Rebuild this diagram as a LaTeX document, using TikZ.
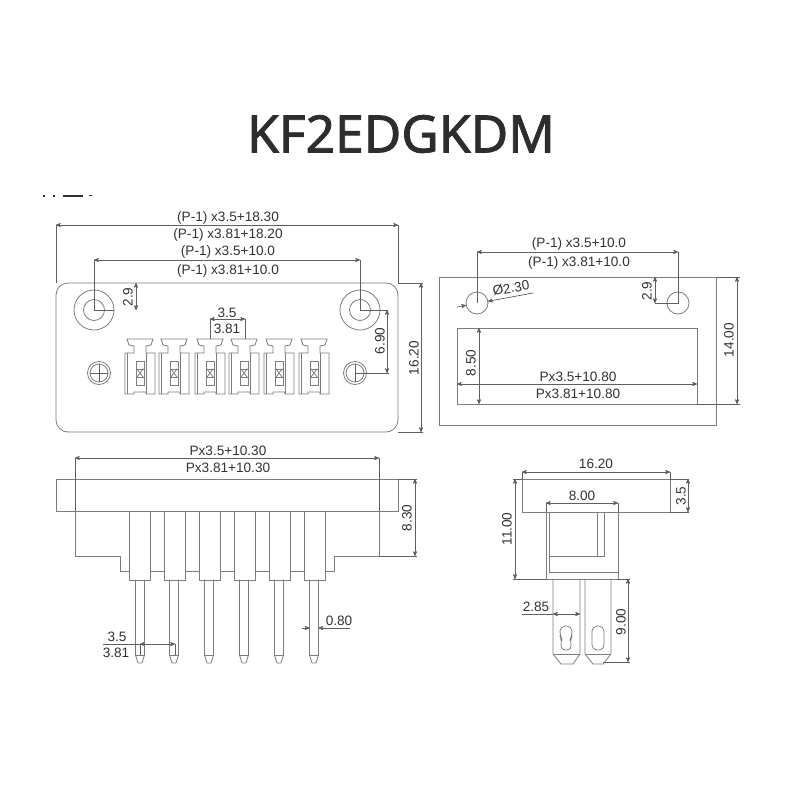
\documentclass[tikz,border=0pt]{standalone}
\usepackage{fontspec}
\setmainfont{Liberation Sans}
\newfontfamily\titlefont[FakeBold=1.6]{Noto Sans}
\usetikzlibrary{arrows}
\begin{document}
\begin{tikzpicture}[x=1pt,y=-1pt,line cap=rect,
	part/.style={line width=0.8pt, col_part},
	dim/.style={line width=0.7pt, col_dim},
	dimarrow/.style={line width=0.7pt, col_dim, <->, >=stealth'},
	dimtip/.style={line width=0.7pt, col_dim, ->, >=stealth'},
	dimtext/.style={inner sep=0, outer sep=0, col_text, font=\fontsize{13.6pt}{13.6pt}\selectfont}]
	\definecolor{col_part}{RGB}{125, 125, 125}
	\definecolor{col_dim}{RGB}{95, 95, 95}
	\definecolor{col_text}{RGB}{50, 50, 50}
	\definecolor{col_title}{RGB}{45, 45, 45}
	\useasboundingbox (0,0) rectangle (800,800);
	\node[inner sep=0, outer sep=0, col_title, font=\titlefont\fontsize{51.5pt}{51.5pt}\selectfont] (title) at (401,134) {KF2EDGKDM};
	% cut off heading
	\fill [col_text] (43,195) rectangle (45,197);
	\fill [col_text] (53,195) rectangle (55,197);
	\fill [col_text] (63,195) rectangle (83,197);
	\fill [col_text] (89,195) rectangle (92,196);
	% front view
	\draw [part, rounded corners=12] (56,283) rectangle (398,432);
	\draw [part] (94,310) ellipse (20 and 20);
	\draw [part] (94,310) ellipse (10.5 and 10.5);
	\draw [part] (360,310) ellipse (20 and 20);
	\draw [part] (360,310) ellipse (10.5 and 10.5);
	\draw [part] (99,373) ellipse (11.5 and 11.5);
	\draw [part] (99,373) ellipse (9 and 9);
	\draw [part] (355,373) ellipse (11.5 and 11.5);
	\draw [part] (355,373) ellipse (9 and 9);
	\draw [dim] (90,373) -- (108,373);
	\draw [dim] (99,364) -- (99,382);
	\draw [dim] (355,364) -- (355,382);
	\foreach \cx in {140,174,210,244,279,314} {
		\draw [part] (\cx-13,339) -- (\cx+13,339) -- (\cx+11,345) -- (\cx+6,346) -- (\cx+6,353) -- (\cx+15,353) -- (\cx+15,394) -- (\cx+6,394) -- (\cx+6,392) -- (\cx-6,392) -- (\cx-6,394) -- (\cx-15,394) -- (\cx-15,353) -- (\cx-6,353) -- (\cx-6,346) -- (\cx-11,345) -- cycle;
		\draw [part] (\cx-13,353) -- (\cx-13,394);
		\draw [part] (\cx+6,353) -- (\cx+6,394);
		\draw [part] (\cx-4,361) rectangle (\cx+4,385);
		\draw [part] (\cx-3,369) -- (\cx+3,377);
		\draw [part] (\cx+3,369) -- (\cx-3,377);
		\draw [part] (\cx-4,369) -- (\cx+4,369);
		\draw [part] (\cx-4,377) -- (\cx+4,377);
	}
	\draw [dimarrow] (56,225) -- (398,225);
	\draw [dim] (56,225) -- (56,283);
	\draw [dim] (398,225) -- (398,283);
	\draw [dimarrow] (94,260) -- (360,260);
	\draw [dim] (94,260) -- (94,310) -- (114,310);
	\draw [dim] (360,260) -- (360,310) -- (388,310);
	\node[dimtext] (widthA) at (228,218) {(P-1) x3.5+18.30};
	\node[dimtext] (widthB) at (228,235) {(P-1) x3.81+18.20};
	\node[dimtext] (holesA) at (228,252) {(P-1) x3.5+10.0};
	\node[dimtext] (holesB) at (228,271) {(P-1) x3.81+10.0};
	\draw [dimarrow] (136,283) -- (136,310);
	\node[dimtext, rotate=90] (holeTop) at (128,297) {2.9};
	\draw [dimarrow] (210,319) -- (245,319);
	\draw [dim] (210,319) -- (210,339);
	\draw [dim] (245,319) -- (245,339);
	\node[dimtext] (pitchA) at (227,313) {3.5};
	\node[dimtext] (pitchB) at (227,329) {3.81};
	\draw [dimarrow] (387,310) -- (387,373);
	\draw [dim] (355,373) -- (389,373);
	\node[dimtext, rotate=90] (pinRow) at (380,341) {6.90};
	\draw [dimarrow] (421,283) -- (421,432);
	\draw [dim] (398,283) -- (423,283);
	\draw [dim] (398,432) -- (423,432);
	\node[dimtext, rotate=90] (plateHigh) at (414,358) {16.20};
	% cut-out view
	\draw [part] (439,277) rectangle (716,425);
	\draw [part] (477,303) ellipse (11 and 11);
	\draw [part] (678,303) ellipse (11 and 11);
	\draw [part] (457,328) rectangle (697,404);
	\draw [dimarrow] (477,252) -- (678,252);
	\draw [dim] (477,252) -- (477,303);
	\draw [dim] (678,252) -- (678,303) -- (655,303);
	\node[dimtext] (cutA) at (579,244) {(P-1) x3.5+10.0};
	\node[dimtext] (cutB) at (579,263) {(P-1) x3.81+10.0};
	\draw [dimtip] (457,307) -- (466,305.3);
	\draw [dimtip] (533,293) -- (488,301.3);
	\node[dimtext, rotate=10] (bore) at (511,288) {Ø2.30};
	\draw [dimarrow] (655,277) -- (655,303);
	\node[dimtext, rotate=90] (cutTop) at (647,291) {2.9};
	\draw [dim] (716,277) -- (740,277);
	\draw [dim] (697,404) -- (740,404);
	\draw [dimarrow] (737,277) -- (737,404);
	\node[dimtext, rotate=90] (cutOuter) at (729,340) {14.00};
	\draw [dimarrow] (479,328) -- (479,404);
	\node[dimtext, rotate=90] (cutHigh) at (471,363) {8.50};
	\draw [dimarrow] (457,384) -- (697,384);
	\node[dimtext] (slotA) at (578,377) {Px3.5+10.80};
	\node[dimtext] (slotB) at (578,394) {Px3.81+10.80};
	% side view
	\draw [part] (56,479) rectangle (398,511);
	\draw [part] (75,511) -- (75,556) -- (120,556) -- (120,571) -- (129,571);
	\draw [part] (379,511) -- (379,556) -- (334,556) -- (334,571) -- (325,571);
	\foreach \cx/\px in {139.5/140,175/174,209.5/209,245/244,279.5/279,314.5/314} {
		\draw [part] (\cx-10.5,511) rectangle (\cx+10.5,580);
		\draw [part] (\px-4.5,580) -- (\px-4.5,655) -- (\px-2,663) -- (\px+2,663) -- (\px+4.5,655) -- (\px+4.5,580);
		\draw [part] (\px-4.5,655) -- (\px+4.5,655);
	}
	\draw [part] (150,571) -- (165,571);
	\draw [part] (185,571) -- (199,571);
	\draw [part] (220,571) -- (235,571);
	\draw [part] (255,571) -- (269,571);
	\draw [part] (290,571) -- (304,571);
	\draw [dimarrow] (75,458) -- (379,458);
	\draw [dim] (75,458) -- (75,511);
	\draw [dim] (379,458) -- (379,511);
	\node[dimtext] (bodyA) at (228,451) {Px3.5+10.30};
	\node[dimtext] (bodyB) at (228,468) {Px3.81+10.30};
	\draw [dim] (398,479) -- (417,479);
	\draw [dim] (379,556) -- (417,556);
	\draw [dimarrow] (415,479) -- (415,556);
	\node[dimtext, rotate=90] (bodyHigh) at (407,518) {8.30};
	\draw [dim] (103,644) -- (140,644);
	\draw [dimarrow] (140,644) -- (175,644);
	\draw [dim] (140,644) -- (140,655);
	\draw [dim] (175,644) -- (175,655);
	\node[dimtext] (pinA) at (117,637) {3.5};
	\node[dimtext] (pinB) at (116,653) {3.81};
	\draw [dimtip] (302,628) -- (309.5,628);
	\draw [dimtip] (350,628) -- (318.5,628);
	\node[dimtext] (pinWide) at (339,621) {0.80};
	% end view
	\draw [part] (522,479) rectangle (670,512);
	\draw [part] (546,512) -- (546,579) -- (618,579) -- (618,512);
	\draw [part] (549,512) -- (549,572) -- (618,572);
	\draw [part] (597,512) -- (597,556);
	\draw [part] (604,512) -- (604,556) -- (549,556);
	\draw [part] (553,579) -- (553,654) -- (561,664) -- (573,664) -- (580,654) -- (580,579);
	\draw [part] (553,654) -- (580,654);
	\draw [part] (585,579) -- (585,654) -- (593,664) -- (603,664) -- (611,654) -- (611,579);
	\draw [part] (585,654) -- (611,654);
	\draw [part, rounded corners=5] (560,626) -- (572,626) -- (572,636) -- (570,640) -- (572,650) -- (560,650) -- (562,640) -- (560,636) -- cycle;
	\draw [part, rounded corners=5] (592,626) -- (604,626) -- (604,650) -- (592,650) -- cycle;
	\draw [dimarrow] (522,472) -- (670,472);
	\draw [dim] (522,472) -- (522,479);
	\draw [dim] (670,472) -- (670,479);
	\node[dimtext] (endWide) at (596,464) {16.20};
	\draw [dimarrow] (546,503) -- (618,503);
	\draw [dim] (546,503) -- (546,512);
	\draw [dim] (618,503) -- (618,512);
	\node[dimtext] (endBody) at (582,496) {8.00};
	\draw [dim] (513,479) -- (522,479);
	\draw [dim] (513,579) -- (546,579);
	\draw [dimarrow] (515,479) -- (515,579);
	\node[dimtext, rotate=90] (endHigh) at (507,529) {11.00};
	\draw [dim] (670,479) -- (689,479);
	\draw [dim] (670,512) -- (689,512);
	\draw [dimarrow] (688,479) -- (688,512);
	\node[dimtext, rotate=90] (endFlange) at (681,496) {3.5};
	\draw [dim] (522,614) -- (553,614);
	\draw [dimarrow] (553,614) -- (580,614);
	\node[dimtext] (bladeWide) at (536,607) {2.85};
	\draw [dim] (618,579) -- (630,579);
	\draw [dim] (603,662) -- (630,662);
	\draw [dimarrow] (628,579) -- (628,662);
	\node[dimtext, rotate=90] (bladeLong) at (621,622) {9.00};
\end{tikzpicture}
\end{document}
